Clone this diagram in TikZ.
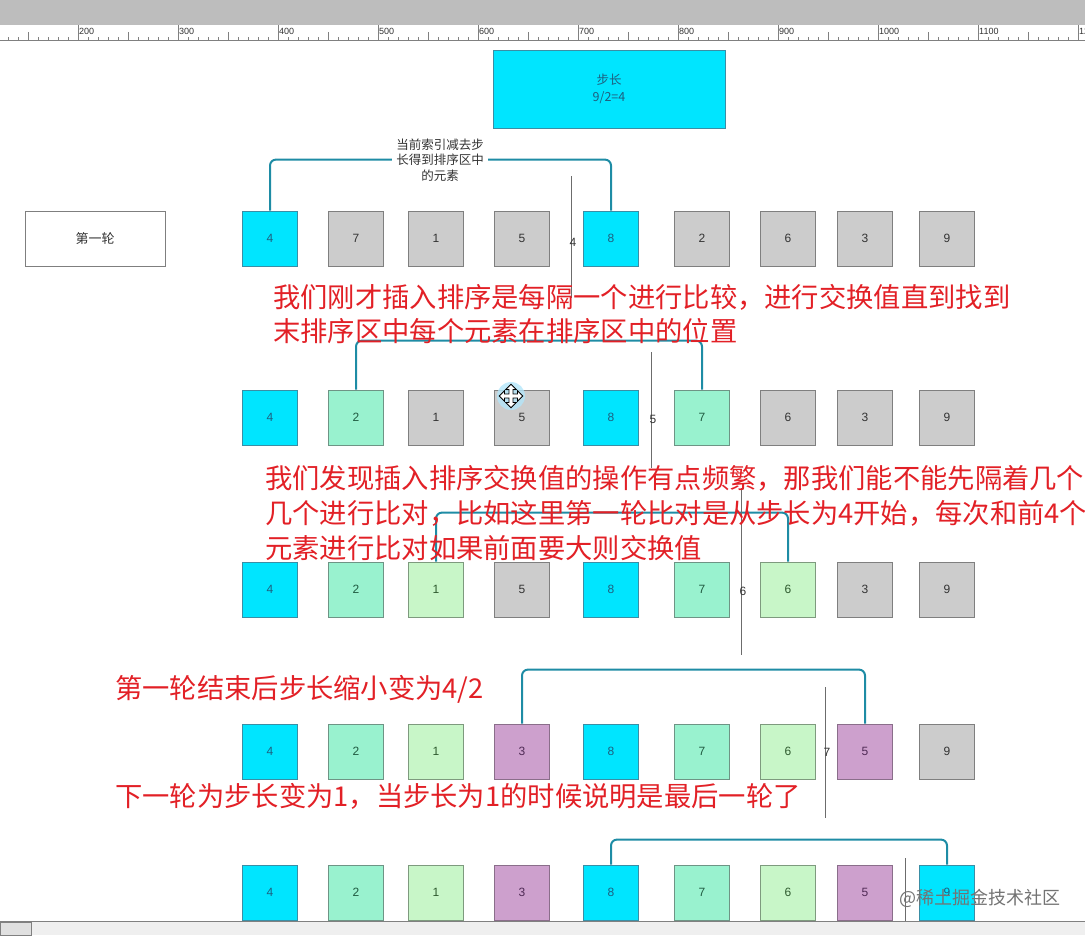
\documentclass[tikz,border=0pt]{standalone}
\usepackage{fontspec}
\setmainfont{Liberation Sans}
\newfontfamily\cjk{Noto Sans CJK SC}
\usetikzlibrary{positioning}
\definecolor{cyf}{RGB}{0,229,255}
\definecolor{cyb}{RGB}{58,142,165}
\definecolor{cyt}{RGB}{30,95,127}
\definecolor{gyf}{RGB}{204,204,204}
\definecolor{gyb}{RGB}{127,127,127}
\definecolor{gyt}{RGB}{51,51,51}
\definecolor{mtf}{RGB}{153,242,207}
\definecolor{mtb}{RGB}{110,148,133}
\definecolor{mtt}{RGB}{31,90,64}
\definecolor{lgf}{RGB}{200,246,200}
\definecolor{lgb}{RGB}{126,154,126}
\definecolor{lgt}{RGB}{46,90,46}
\definecolor{puf}{RGB}{205,160,205}
\definecolor{pub}{RGB}{138,110,138}
\definecolor{put}{RGB}{79,42,85}
\definecolor{linkteal}{RGB}{30,140,165}
\definecolor{remarkred}{RGB}{226,32,38}
\definecolor{barbg}{RGB}{189,189,189}
\definecolor{scrollbg}{RGB}{239,239,239}
\tikzset{
  cell/.style={draw=#1b,fill=#1f,text=#1t,line width=0.8pt,
               minimum width=55,minimum height=55,inner sep=0,
               font=\fontsize{12}{14}\selectfont},
  stepbox/.style={draw=cyb,fill=cyf,text=cyt,line width=0.8pt,align=center,
                  minimum width=232,minimum height=78,
                  font=\cjk\fontsize{12.5}{17}\selectfont},
  roundbox/.style={draw=gyb,fill=white,text=gyt,line width=0.8pt,
                   minimum width=140,minimum height=55,
                   font=\cjk\fontsize{13}{15}\selectfont},
  link/.style={draw=linkteal,line width=2pt,rounded corners=6pt},
  divider/.style={draw=gray!85!black,line width=0.8pt},
  gaplbl/.style={text=gyt,inner sep=0,font=\fontsize{12}{14}\selectfont},
  hint/.style={fill=white,text=gyt,align=center,inner sep=4pt,
               font=\cjk\fontsize{12.5}{15.5}\selectfont},
  remark/.style={text=remarkred,anchor=west,inner sep=0,
                 font=\cjk\fontsize{27.3}{33}\selectfont},
  tick/.style={draw=gray,line width=0.5pt},
  rulelbl/.style={anchor=west,inner sep=0.5pt,text=gyt,
                  font=\fontsize{9}{10}\selectfont},
  watermark/.style={text=gray!90!black,inner sep=0,font=\cjk\fontsize{18}{20}\selectfont},
}
\newcommand{\colx}[1]{\pgfmathsetmacro\x{{270,356,436,522,611,702,788,865,947}[#1-1]}}

\begin{document}
\begin{tikzpicture}[x=1pt,y=-1pt]
  \useasboundingbox (0,0) rectangle (1085,935);

  % --- toolbar and ruler ---------------------------------------------------
  \fill[barbg] (0,0) rectangle (1085,25);
  \draw[tick] (0,40) -- (1085,40);
  \foreach \t in {8,18,...,1078} \draw[tick] (\t,40) -- (\t,36.5);
  \foreach \t in {28,128,...,1028} \draw[tick] (\t,40) -- (\t,32);
  \foreach \t/\n in {78/200,178/300,278/400,378/500,478/600,578/700,
                     678/800,778/900,878/1000,978/1100,1078/1200}{
    \draw[tick] (\t,40) -- (\t,25);
    \node[rulelbl] (ruler\n) at (\t+0.5,31) {\n};
  }

  % --- step size -------------------------------------------------------------
  \node[stepbox] (step) at (609,89) {步长\\9/2=4};
  \node[roundbox] (round1) at (95,238.5) {第一轮};

  % --- rows ----------------------------------------------------------------
  \foreach \v/\c [count=\i] in {4/cy,7/gy,1/gy,5/gy,8/cy,2/gy,6/gy,3/gy,9/gy}{
    \colx{\i}
    \node[cell=\c] (r1-\i) at (\x,238.5) {\v};
  }
  \foreach \v/\c [count=\i] in {4/cy,2/mt,1/gy,5/gy,8/cy,7/mt,6/gy,3/gy,9/gy}{
    \colx{\i}
    \node[cell=\c] (r2-\i) at (\x,417.5) {\v};
  }
  \foreach \v/\c [count=\i] in {4/cy,2/mt,1/lg,5/gy,8/cy,7/mt,6/lg,3/gy,9/gy}{
    \colx{\i}
    \node[cell=\c] (r3-\i) at (\x,589.5) {\v};
  }
  \foreach \v/\c [count=\i] in {4/cy,2/mt,1/lg,3/pu,8/cy,7/mt,6/lg,5/pu,9/gy}{
    \colx{\i}
    \node[cell=\c] (r4-\i) at (\x,751.5) {\v};
  }
  \foreach \v/\c [count=\i] in {4/cy,2/mt,1/lg,3/pu,8/cy,7/mt,6/lg,5/pu,9/cy}{
    \colx{\i}
    \node[cell=\c] (r5-\i) at (\x,892.5) {\v};
  }

  % --- compared pairs ------------------------------------------------------
  \draw[link] (r1-1.north) -- ++(0,-51) -| (r1-5.north);
  \node[hint] (hint1) at (440,160) {当前索引减去步\\长得到排序区中\\的元素};
  \draw[link] (r2-2.north) -- ++(0,-49) -| (r2-6.north);
  \draw[link] (r3-3.north) -- ++(0,-49) -| (r3-7.north);
  \draw[link] (r4-4.north) -- ++(0,-54) -| (r4-8.north);
  \draw[link] (r5-5.north) -- ++(0,-25) -| (r5-9.north);

  % --- sorted / unsorted split ---------------------------------------------
  \draw[divider] (571,176) -- (571,298);
  \node[gaplbl] (gap4) at (573,242) {4};
  \draw[divider] (651,352) -- (651,468);
  \node[gaplbl] (gap5) at (653,419) {5};
  \draw[divider] (741,488) -- (741,655);
  \node[gaplbl] (gap6) at (743,591) {6};
  \draw[divider] (825,687) -- (825,818);
  \node[gaplbl] (gap7) at (827,752) {7};
  \draw[divider] (905,858) -- (905,935);

  % --- cursor ----------------------------------------------------------------
  \fill[cyan!30,opacity=0.8] (511,396) circle (14);
  \draw[fill=white,line width=0.8pt,shift={(511,396)},scale=1.3]
    (0,-9) -- (4,-5) -- (1.5,-5) -- (1.5,-1.5) -- (5,-1.5) -- (5,-4) -- (9,0)
    -- (5,4) -- (5,1.5) -- (1.5,1.5) -- (1.5,5) -- (4,5) -- (0,9) -- (-4,5)
    -- (-1.5,5) -- (-1.5,1.5) -- (-5,1.5) -- (-5,4) -- (-9,0) -- (-5,-4)
    -- (-5,-1.5) -- (-1.5,-1.5) -- (-1.5,-5) -- (-4,-5) -- cycle;

  % --- notes -----------------------------------------------------------------
  \node[remark] (note1a) at (273,297) {我们刚才插入排序是每隔一个进行比较，进行交换值直到找到};
  \node[remark] (note1b) at (273,331) {末排序区中每个元素在排序区中的位置};
  \node[remark] (note2a) at (265,478) {我们发现插入排序交换值的操作有点频繁，那我们能不能先隔着几个};
  \node[remark] (note2b) at (265,513) {几个进行比对，比如这里第一轮比对是从步长为4开始，每次和前4个};
  \node[remark] (note2c) at (265,548) {元素进行比对如果前面要大则交换值};
  \node[remark] (note3)  at (115,689) {第一轮结束后步长缩小变为4/2};
  \node[remark] (note4)  at (115,796) {下一轮为步长变为1，当步长为1的时候说明是最后一轮了};

  \node[watermark] (mark1) at (980,898) {@稀土掘金技术社区};

  % --- scrollbar -------------------------------------------------------------
  \fill[scrollbg] (0,921) rectangle (1085,935);
  \draw[tick] (0,921) -- (1085,921);
  \draw[tick,fill=gyf!60] (0,922) rectangle (31,935);
\end{tikzpicture}
\end{document}
